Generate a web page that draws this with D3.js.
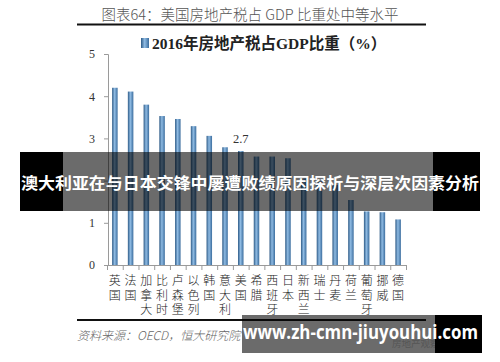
<!DOCTYPE html>
<html><head><meta charset="utf-8">
<script src="https://cdn.jsdelivr.net/npm/d3@7"></script>
<style>html,body{margin:0;padding:0;background:#fff;}svg{display:block;}</style>
</head><body>
<svg id="c" width="500" height="362"></svg>
<script>
const categories = ["英国","法国","加拿大","比利时","卢森堡","以色列","韩国","意大利","美国","希腊","西班牙","日本","新西兰","瑞士","丹麦","荷兰","葡萄牙","挪威","德国"];
const values = [4.2,4.11,3.8,3.53,3.46,3.29,3.06,2.79,2.7,2.57,2.57,2.53,2.05,1.98,1.9,1.54,1.27,1.25,1.08];
const yTicks = [0,1,2,3,4,5];
const labelCategory = "美国";
const labelText = "2.7";
const titleText = "图表64：美国房地产税占 GDP 比重处中等水平";
const legendText = "2016年房地产税占GDP比重（%）";
const sourceText = "资料来源：OECD，恒大研究院";
const bannerText = "澳大利亚在与日本交锋中屡遭败绩原因探析与深层次因素分析";
const watermarkText = "www.zh-cmn-jiuyouhui.com";

const svg = d3.select("#c");
const serif = "'Liberation Serif','Noto Sans CJK SC',serif";
const cjk = "'Noto Sans CJK SC',sans-serif";

const defs = svg.append("defs");
const g = defs.append("linearGradient").attr("id","bg").attr("x1","0").attr("x2","1").attr("y1","0").attr("y2","0");
g.append("stop").attr("offset","0%").attr("stop-color","#2d5a86");
g.append("stop").attr("offset","45%").attr("stop-color","#8fbbe3");
g.append("stop").attr("offset","100%").attr("stop-color","#3b6d9e");

// title
svg.append("text").attr("x",250).attr("y",20).attr("text-anchor","middle")
  .attr("font-family",cjk).attr("font-size",14.5).attr("font-weight",300).attr("fill","#555")
  .text(titleText);
svg.append("line").attr("x1",77).attr("x2",426).attr("y1",24.5).attr("y2",24.5).attr("stroke","#111").attr("stroke-width",2);

// legend
svg.append("rect").attr("x",141).attr("y",38).attr("width",8).attr("height",10).attr("fill","url(#bg)");
svg.append("text").attr("x",152).attr("y",48.5).attr("font-family",serif).attr("font-size",15.5).attr("font-weight","bold").attr("fill","#222")
  .text(legendText);

const x = d3.scaleBand().domain(categories).range([107,406]).paddingInner(0.65).paddingOuter(0.325);
const y = d3.scaleLinear().domain([0,5]).range([265,54]);
const xi = d3.scaleLinear().domain([0,categories.length]).range([107,406]);

// y axis
const ya = svg.append("g").attr("transform","translate(108,0)")
  .call(d3.axisLeft(y).tickValues(yTicks).tickSize(4).tickPadding(9).tickFormat(d3.format("d")));
ya.selectAll("path,line").attr("stroke","#9a9a9a");
ya.selectAll("text").attr("font-family",serif).attr("font-size",12).attr("fill","#333");

// x axis ticks at band boundaries
const xa = svg.append("g").attr("transform","translate(0,265)")
  .call(d3.axisBottom(xi).tickValues(d3.range(categories.length+1)).tickSize(5).tickFormat(""));
xa.selectAll("path,line").attr("stroke","#9a9a9a");

// bars
svg.append("g").selectAll("rect").data(categories).join("rect")
  .attr("x",d=>x(d)).attr("width",x.bandwidth())
  .attr("y",(d,i)=>y(values[i])).attr("height",(d,i)=>y(0)-y(values[i]))
  .attr("fill","url(#bg)");

// data label
const li = categories.indexOf(labelCategory);
svg.append("text").attr("x",x(labelCategory)+x.bandwidth()/2).attr("y",y(values[li])-8)
  .attr("text-anchor","middle").attr("font-family",serif).attr("font-size",12.5).attr("fill","#333").text(labelText);

// x labels, vertical
const xl = svg.append("g").selectAll("text").data(categories).join("text")
  .attr("font-family",cjk).attr("font-size",12).attr("font-weight",300).attr("fill","#222").attr("text-anchor","middle");
xl.each(function(d){
  const t = d3.select(this);
  Array.from(d).forEach((ch,k)=>{
    t.append("tspan").attr("x",x(d)+x.bandwidth()/2).attr("y",285+k*14.5).text(ch);
  });
});

// bottom rule + source
svg.append("line").attr("x1",77).attr("x2",426).attr("y1",320).attr("y2",320).attr("stroke","#111").attr("stroke-width",2);
svg.append("text").attr("x",77).attr("y",340).attr("font-family",cjk).attr("font-size",12).attr("font-style","italic").attr("font-weight",300).attr("fill","#666")
  .text(sourceText);
svg.append("text").attr("x",392).attr("y",347).attr("font-family",cjk).attr("font-size",9.5).attr("fill","#ccc").text("房地产观察");

// banner overlay
svg.append("rect").attr("x",20).attr("y",152).attr("width",43).attr("height",59).attr("fill","#000");
svg.append("rect").attr("x",433).attr("y",152).attr("width",47).attr("height",59).attr("fill","#000");
svg.append("rect").attr("x",63).attr("y",152).attr("width",370).attr("height",59).attr("fill","rgba(0,0,0,0.58)");
svg.append("text").attr("x",250).attr("y",189).attr("text-anchor","middle").attr("font-family",cjk).attr("font-weight","bold")
  .attr("font-size",16.3).attr("fill","#fff").attr("textLength",458).attr("lengthAdjust","spacingAndGlyphs").text(bannerText);

// watermark box
svg.append("rect").attr("x",242).attr("y",315).attr("width",193).attr("height",38).attr("fill","rgba(0,0,0,0.58)");
svg.append("rect").attr("x",435).attr("y",315).attr("width",47).attr("height",38).attr("fill","#000");
svg.append("text").attr("x",243).attr("y",339).attr("font-family","'Open Sans','DejaVu Sans',sans-serif").attr("font-weight","bold")
  .attr("font-size",19).attr("fill","#fff").attr("textLength",235).attr("lengthAdjust","spacingAndGlyphs").text(watermarkText);
</script>
</body></html>
